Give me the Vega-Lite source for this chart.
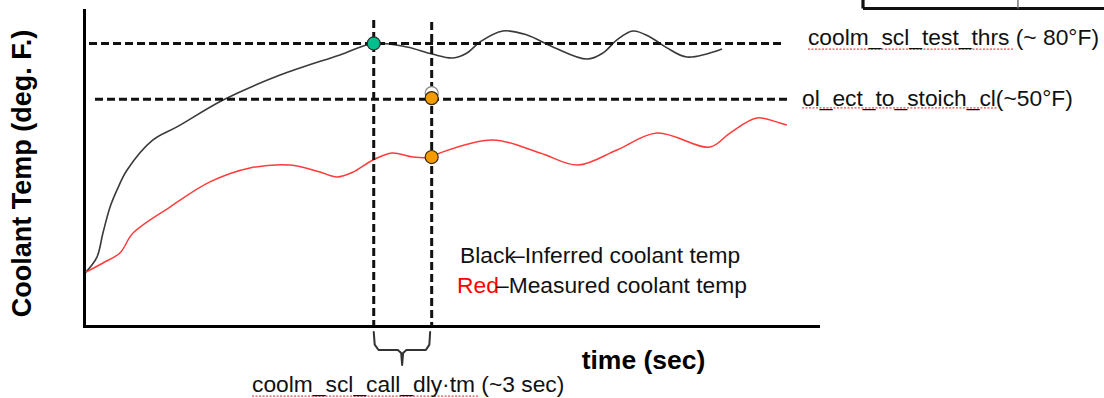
{
  "$schema": "https://vega.github.io/schema/vega-lite/v6.json",
  "width": 734,
  "height": 316,
  "autosize": {"type": "none"},
  "padding": {"left": 84, "top": 10, "right": 286, "bottom": 72},
  "background": "white",
  "config": {"view": {"stroke": null}, "font": "Liberation Sans"},
  "datasets": {
    "inferred": [
      {"t": 0.1, "temp": -43}, {"t": 0.67, "temp": -34.9}, {"t": 0.98, "temp": -22}, {"t": 1.35, "temp": -8},
      {"t": 1.71, "temp": 1.2}, {"t": 2.23, "temp": 11.9}, {"t": 3.57, "temp": 28.1}, {"t": 4.81, "temp": 35.1},
      {"t": 7.2, "temp": 49.6}, {"t": 10.15, "temp": 63}, {"t": 13.25, "temp": 73.8}, {"t": 15, "temp": 80},
      {"t": 16.72, "temp": 78.1}, {"t": 18.02, "temp": 74.3}, {"t": 19.1, "temp": 72.2}, {"t": 19.83, "temp": 74.9},
      {"t": 20.5, "temp": 80.8}, {"t": 21.69, "temp": 86.7}, {"t": 22.93, "temp": 84.6}, {"t": 24.28, "temp": 78.1},
      {"t": 26.04, "temp": 71.6}, {"t": 26.87, "temp": 74.9}, {"t": 27.59, "temp": 81.9}, {"t": 28.42, "temp": 86.7},
      {"t": 29.3, "temp": 83.5}, {"t": 30.18, "temp": 77.6}, {"t": 31.22, "temp": 72.7}, {"t": 33.03, "temp": 77}
    ],
    "measured": [
      {"t": 0.1, "temp": -43}, {"t": 0.98, "temp": -38.1}, {"t": 1.86, "temp": -32.7}, {"t": 2.54, "temp": -22},
      {"t": 4.45, "temp": -8}, {"t": 6.52, "temp": 5.5}, {"t": 8.59, "temp": 13}, {"t": 10.66, "temp": 14.6},
      {"t": 12.22, "temp": 10.8}, {"t": 13.1, "temp": 8.2}, {"t": 13.93, "temp": 10.8}, {"t": 14.96, "temp": 17.3},
      {"t": 15.95, "temp": 21.1}, {"t": 17.03, "temp": 18.9}, {"t": 18, "temp": 18.9}, {"t": 18.43, "temp": 21.1},
      {"t": 21.17, "temp": 28.1}, {"t": 23.61, "temp": 21.1}, {"t": 25.57, "temp": 14.6}, {"t": 27.59, "temp": 22.7},
      {"t": 29.66, "temp": 31.8}, {"t": 32.41, "temp": 24.3}, {"t": 33.44, "temp": 31.8}, {"t": 34.84, "temp": 39.9},
      {"t": 36.03, "temp": 37.2}, {"t": 36.39, "temp": 36.1}
    ],
    "thresholds": [
      {"name": "coolm_scl_test_thrs", "t": 0.26, "t2": 36.24, "temp": 80},
      {"name": "ol_ect_to_stoich_cl", "t": 0.57, "t2": 36.45, "temp": 50}
    ],
    "events": [
      {"name": "threshold reached", "t": 15, "temp": 92.6, "temp2": -72},
      {"name": "call delay elapsed", "t": 18, "temp": 91.5, "temp2": -72}
    ],
    "brace": [
      {"t": 15.0, "temp": -75.2}, {"t": 15.05, "temp": -82}, {"t": 15.25, "temp": -84.9}, {"t": 16.25, "temp": -84.9},
      {"t": 16.42, "temp": -86.5}, {"t": 16.47, "temp": -93}, {"t": 16.52, "temp": -86.5}, {"t": 16.69, "temp": -84.9},
      {"t": 17.7, "temp": -84.9}, {"t": 17.88, "temp": -82}, {"t": 17.92, "temp": -75.2}
    ],
    "frame": [
      {"t": 40.33, "t2": 52.81, "temp": 98.8, "temp2": 98.8},
      {"t": 40.33, "t2": 40.33, "temp": 103.4, "temp2": 98.8}
    ],
    "divider": [
      {"t": 48.35, "t2": 48.35, "temp": 103.4, "temp2": 98.8}
    ],
    "underlines": [
      {"t": 37.48, "t2": 48.1, "temp": 77},
      {"t": 37.17, "t2": 47.27, "temp": 45.3},
      {"t": 8.7, "t2": 20.4, "temp": -109.7}
    ],
    "points": [
      {"kind": "ghost", "t": 18, "temp": 53.3},
      {"kind": "threshold", "t": 15, "temp": 80},
      {"kind": "reached", "t": 18, "temp": 50.6},
      {"kind": "reached", "t": 18, "temp": 18.9}
    ],
    "labels": [
      {"t": 37.48, "temp": 79.2, "label": "coolm_scl_test_thrs (~ 80°F)", "tone": "ink"},
      {"t": 37.17, "temp": 46.4, "label": "ol_ect_to_stoich_cl(~50°F)", "tone": "ink"},
      {"t": 19.47, "temp": -38.1, "label": "Black", "tone": "ink"},
      {"t": 22.16, "temp": -38.1, "label": "–Inferred  coolant temp", "tone": "ink"},
      {"t": 19.31, "temp": -54.2, "label": "Red", "tone": "red"},
      {"t": 21.33, "temp": -54.2, "label": "–Measured coolant temp", "tone": "ink"},
      {"t": 8.7, "temp": -107.5, "label": "coolm_scl_call_dly·tm (~3 sec)", "tone": "ink"}
    ]
  },
  "encoding": {
    "x": {
      "field": "t", "type": "quantitative",
      "scale": {"domain": [0, 38], "nice": false, "zero": false},
      "axis": {
        "title": "time (sec)", "domain": true, "domainColor": "#000", "domainWidth": 3, "domainCap": "square",
        "ticks": false, "labels": false, "grid": false,
        "titleFont": "Liberation Sans", "titleFontSize": 26.5, "titleFontWeight": "bold", "titleColor": "#000",
        "titleX": 559, "titleY": 42, "titleAlign": "center", "titleBaseline": "alphabetic"
      }
    },
    "y": {
      "field": "temp", "type": "quantitative",
      "scale": {"domain": [-72, 98], "nice": false, "zero": false},
      "axis": {
        "title": "Coolant Temp (deg. F.)", "domain": true, "domainColor": "#000", "domainWidth": 3, "domainCap": "square",
        "ticks": false, "labels": false, "grid": false,
        "titleFont": "Liberation Sans", "titleFontSize": 27, "titleFontWeight": "bold", "titleColor": "#000",
        "titleAngle": 270, "titleX": -62, "titleY": 163, "titleAlign": "center", "titleBaseline": "middle"
      }
    }
  },
  "layer": [
    {
      "data": {"name": "inferred"},
      "mark": {"type": "line", "interpolate": "catmull-rom", "color": "#3a3a3a", "strokeWidth": 1.6},
      "encoding": {}
    },
    {
      "data": {"name": "measured"},
      "mark": {"type": "line", "interpolate": "catmull-rom", "color": "#ff3b3b", "strokeWidth": 1.5},
      "encoding": {}
    },
    {
      "data": {"name": "thresholds"},
      "mark": {"type": "rule", "color": "#111", "strokeWidth": 3, "strokeDash": [8, 4]},
      "encoding": {"x2": {"field": "t2"}}
    },
    {
      "data": {"name": "events"},
      "mark": {"type": "rule", "color": "#111", "strokeWidth": 3, "strokeDash": [8, 4]},
      "encoding": {"y2": {"field": "temp2"}}
    },
    {
      "data": {"name": "brace"},
      "mark": {"type": "line", "color": "#333", "strokeWidth": 2, "strokeJoin": "round", "strokeCap": "round"},
      "encoding": {}
    },
    {
      "data": {"name": "frame"},
      "mark": {"type": "rule", "color": "#111", "strokeWidth": 3.2},
      "encoding": {"x2": {"field": "t2"}, "y2": {"field": "temp2"}}
    },
    {
      "data": {"name": "divider"},
      "mark": {"type": "rule", "color": "#777", "strokeWidth": 1.5},
      "encoding": {"x2": {"field": "t2"}, "y2": {"field": "temp2"}}
    },
    {
      "data": {"name": "underlines"},
      "mark": {"type": "rule", "color": "#e84a4a", "strokeWidth": 1.3, "strokeDash": [2, 1.5]},
      "encoding": {"x2": {"field": "t2"}}
    },
    {
      "data": {"name": "points"},
      "mark": {"type": "point", "shape": "circle", "filled": true, "size": 170, "strokeWidth": 1.2, "opacity": 1},
      "encoding": {
        "fill": {"field": "kind", "type": "nominal", "legend": null,
          "scale": {"domain": ["ghost", "threshold", "reached"], "range": ["#ffffff", "#00bf8c", "#f59b00"]}},
        "stroke": {"field": "kind", "type": "nominal", "legend": null,
          "scale": {"domain": ["ghost", "threshold", "reached"], "range": ["#888888", "#2b2b2b", "#3a2a10"]}}
      }
    },
    {
      "data": {"name": "labels"},
      "mark": {"type": "text", "align": "left", "baseline": "alphabetic", "fontSize": 22.8, "font": "Liberation Sans"},
      "encoding": {
        "text": {"field": "label"},
        "color": {"field": "tone", "type": "nominal", "legend": null,
          "scale": {"domain": ["ink", "red"], "range": ["#111111", "#ff0000"]}}
      }
    }
  ]
}
